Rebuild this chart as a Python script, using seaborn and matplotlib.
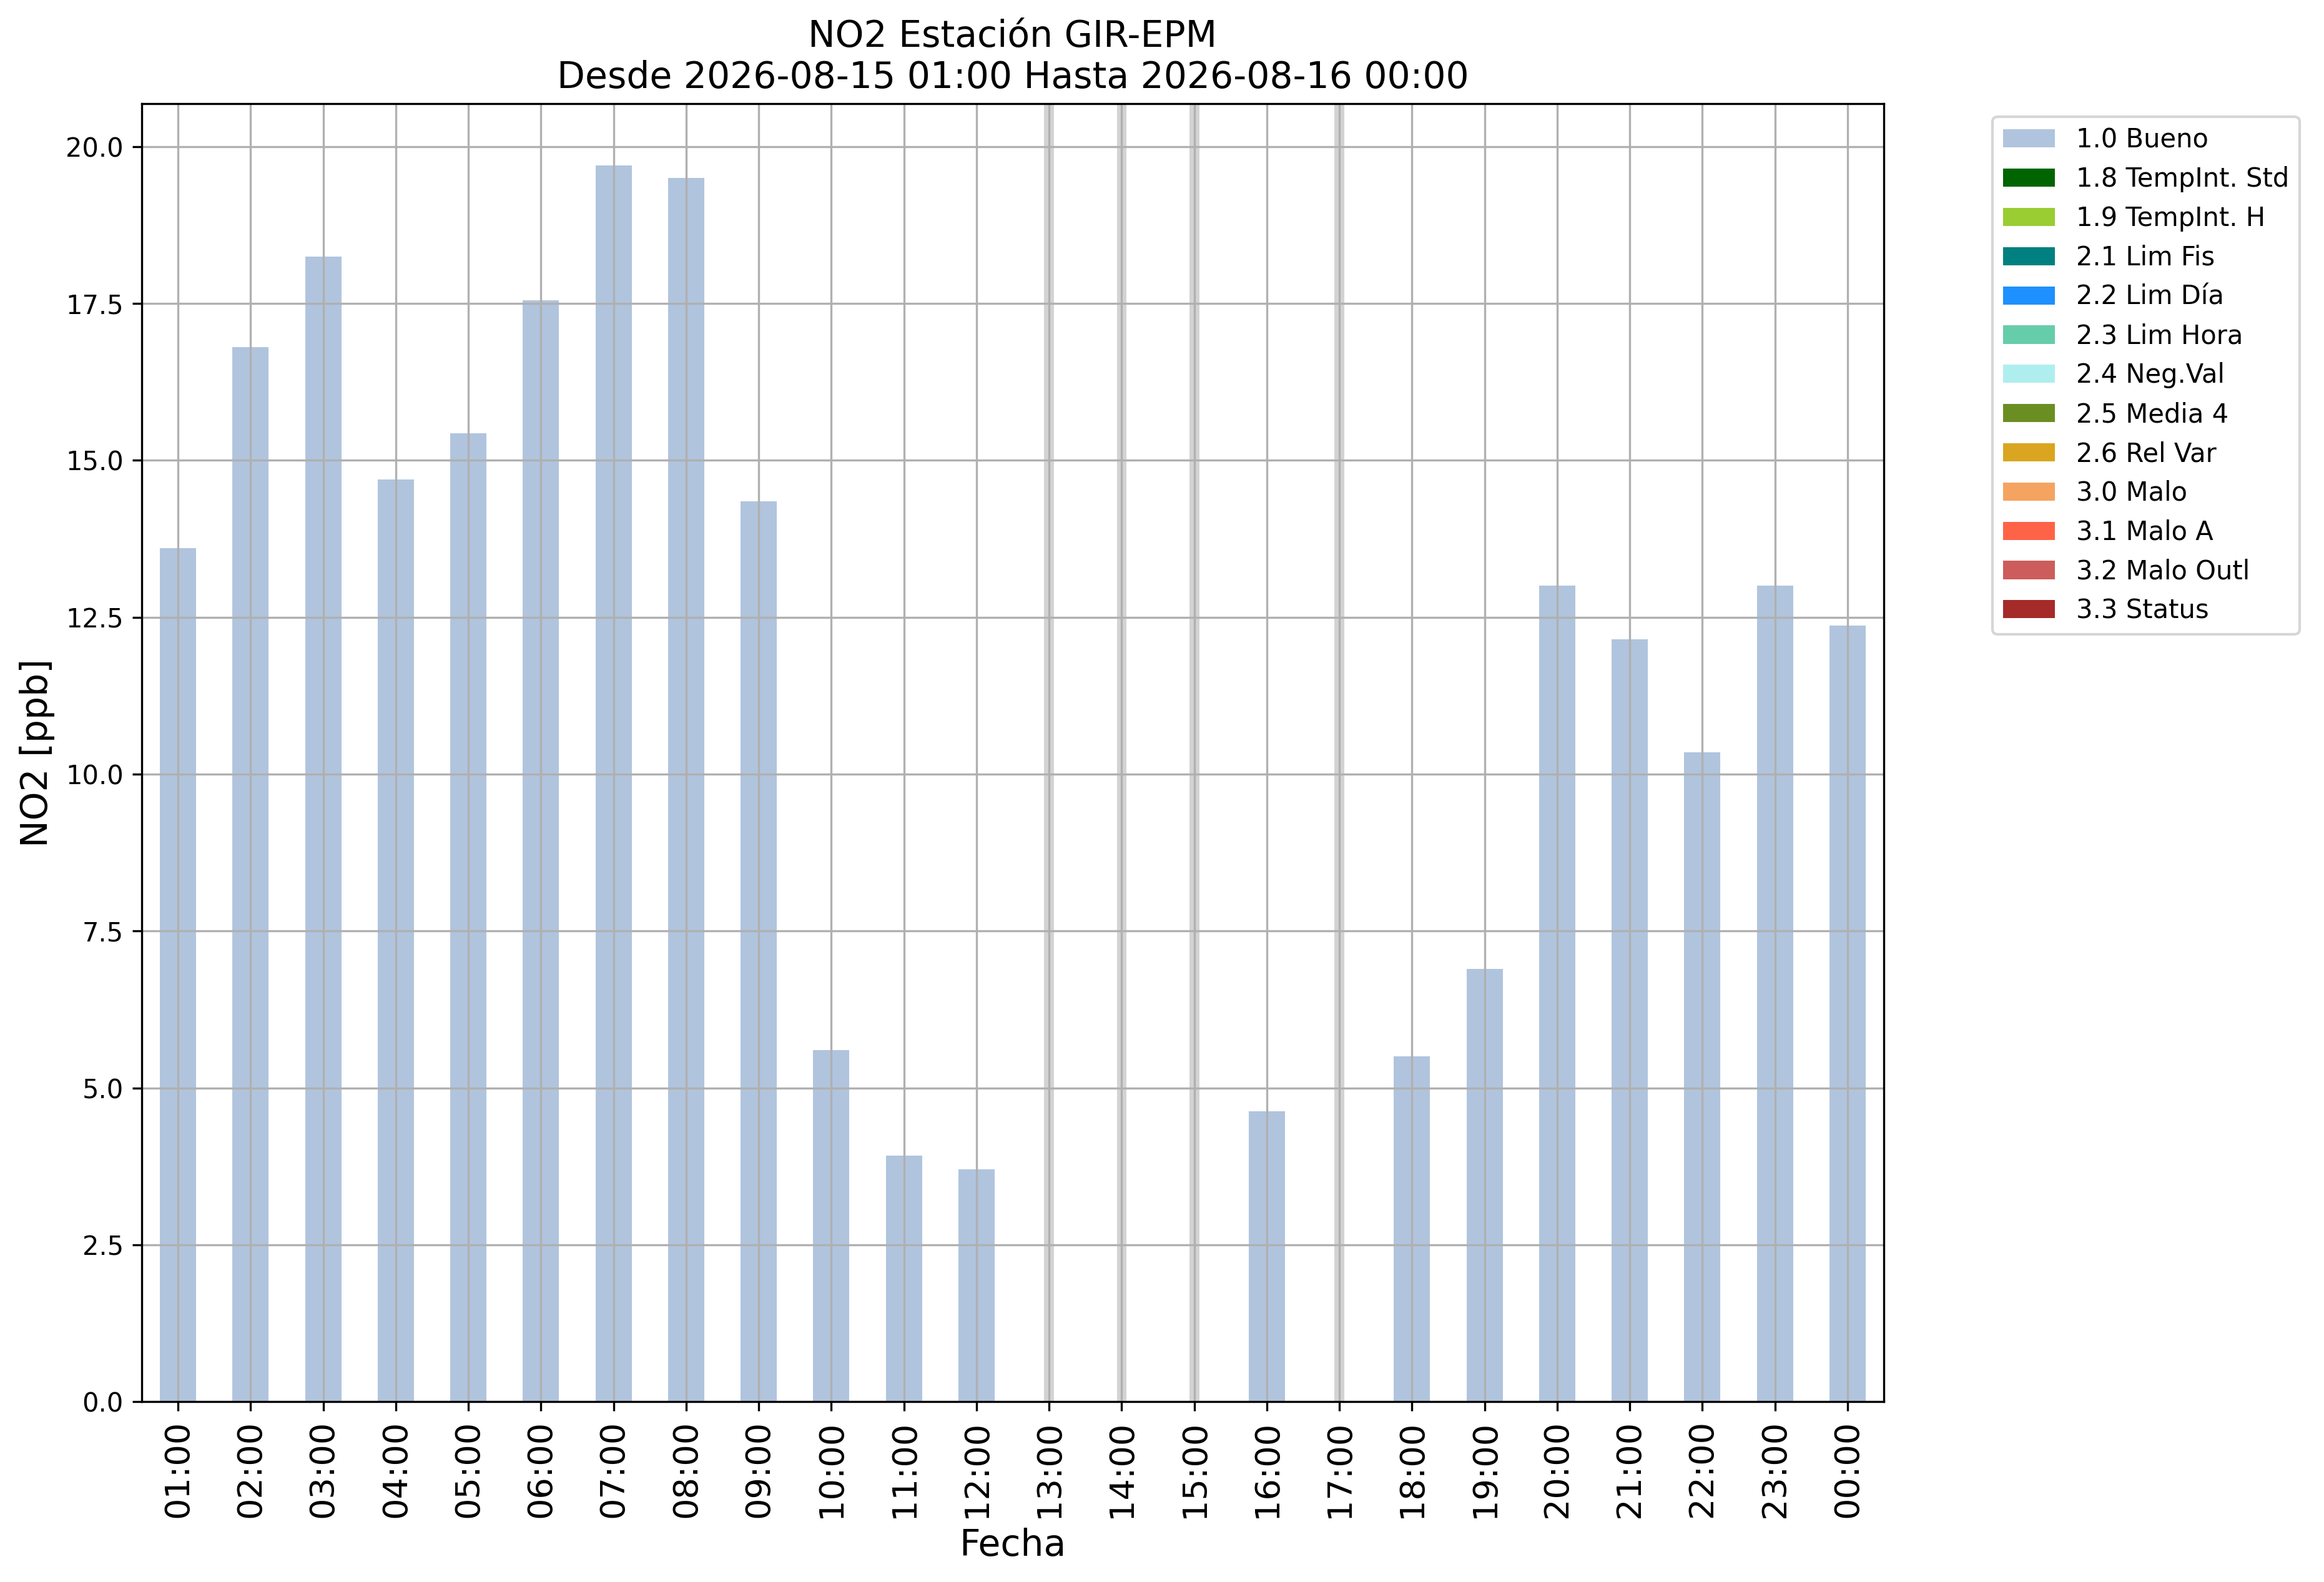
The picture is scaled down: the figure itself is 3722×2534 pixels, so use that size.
import numpy as np
import pandas as pd
import matplotlib
matplotlib.use("Agg")
import matplotlib.pyplot as plt
import seaborn as sns
from matplotlib.patches import Patch

# hourly NO2 values (ppb), NaN = no data
hours = ['01:00', '02:00', '03:00', '04:00', '05:00', '06:00', '07:00', '08:00',
         '09:00', '10:00', '11:00', '12:00', '13:00', '14:00', '15:00', '16:00',
         '17:00', '18:00', '19:00', '20:00', '21:00', '22:00', '23:00', '00:00']
no2 = [13.6, 16.8, 18.25, 14.7, 15.43, 17.55, 19.7, 19.5,
       14.35, 5.6, 3.92, 3.7, np.nan, np.nan, np.nan, 4.63,
       np.nan, 5.5, 6.9, 13.0, 12.15, 10.35, 13.0, 12.37]

flag_labels = ['1.0 Bueno', '1.8 TempInt. Std', '1.9 TempInt. H', '2.1 Lim Fis',
               '2.2 Lim Día', '2.3 Lim Hora', '2.4 Neg.Val', '2.5 Media 4',
               '2.6 Rel Var', '3.0 Malo', '3.1 Malo A', '3.2 Malo Outl', '3.3 Status']
flag_colors = ['lightsteelblue', 'darkgreen', 'yellowgreen', 'teal',
               'dodgerblue', 'mediumaquamarine', 'paleturquoise', 'olivedrab',
               'goldenrod', 'sandybrown', 'tomato', 'indianred', 'brown']

df = pd.DataFrame({'Fecha': hours, 'NO2': no2})

fig, ax = plt.subplots(figsize=(3722 / 300, 2534 / 300), dpi=300)
fig.subplots_adjust(left=0.061, right=0.8106, top=0.9345, bottom=0.114)

sns.barplot(data=df, x='Fecha', y='NO2', order=hours, color=flag_colors[0],
            saturation=1, width=0.5, errorbar=None, ax=ax)

# grey marks on hours without data
for i, v in enumerate(no2):
    if np.isnan(v):
        ax.axvspan(i - 0.068, i + 0.068, color='lightgrey', zorder=1, lw=0)
ax.set_xlim(-0.5, len(hours) - 0.5)

ax.grid(True)
ax.set_title('NO2 Estación GIR-EPM\nDesde 2026-08-15 01:00 Hasta 2026-08-16 00:00',
             fontsize=14)
ax.set_xlabel('Fecha', fontsize=14)
ax.set_ylabel('NO2 [ppb]', fontsize=14)
ax.tick_params(axis='x', labelrotation=90, labelsize=13)
ax.tick_params(axis='y', labelsize=10)

handles = [Patch(facecolor=c) for c in flag_colors]
ax.legend(handles, flag_labels, loc='upper left', bbox_to_anchor=(1.055, 1),
          fontsize=10)

fig.savefig('out.png', dpi=300)
plt.close()
